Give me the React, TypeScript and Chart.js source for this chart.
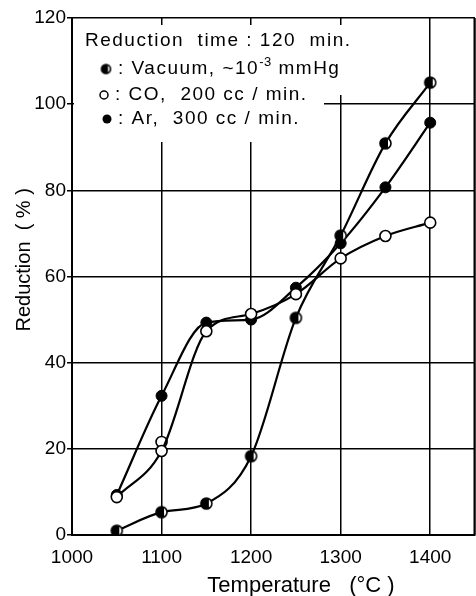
import React, { useEffect, useRef } from 'react';
import { Chart, registerables } from 'chart.js';

Chart.register(...registerables);

// ---- Data ----
const temperatures = [1050, 1100, 1150, 1200, 1250, 1300, 1350, 1400];
const vacuumValues = [1.0, 5.3, 7.3, 18.3, 50.4, 69.5, 90.9, 105.0];
const coValues = [8.8, 19.5, 47.3, 51.3, 55.9, 64.2, 69.4, 72.5];
const coRepeatTemperatures = [1100];
const coRepeatValues = [21.6];
const arValues = [9.3, 32.3, 49.3, 50.0, 57.4, 67.7, 80.7, 95.7];

const xTickValues = [1000, 1100, 1200, 1300, 1400];
const xMin = 1000;
const xMax = 1450;
const yTickValues = [0, 20, 40, 60, 80, 100, 120];
const yMin = 0;
const yMax = 120;

const legendHeader = 'Reduction  time : 120  min.';
const legendVacuum = ': Vacuum, ~10';
const legendVacuumSup = '-3';
const legendVacuumTail = ' mmHg';
const legendCO = ': CO,  200 cc / min.';
const legendAr = ': Ar,  300 cc / min.';

const FONT = '"Liberation Sans", Arial, sans-serif';

function makeHalfMarker(r: number): HTMLCanvasElement {
  const size = Math.ceil(r * 2 + 4);
  const c = document.createElement('canvas');
  c.width = size;
  c.height = size;
  const g = c.getContext('2d')!;
  const cx = size / 2;
  const cy = size / 2;
  g.beginPath();
  g.arc(cx, cy, r, 0, Math.PI * 2);
  g.fillStyle = '#fff';
  g.fill();
  g.beginPath();
  g.arc(cx, cy, r, Math.PI * 0.35, Math.PI * 1.65);
  g.closePath();
  g.fillStyle = '#000';
  g.fill();
  g.beginPath();
  g.arc(cx, cy, r, 0, Math.PI * 2);
  g.lineWidth = 1.6;
  g.strokeStyle = '#000';
  g.stroke();
  return c;
}

const pts = (xs: number[], ys: number[]) => xs.map((x, i) => ({ x, y: ys[i] }));

export default function App() {
  const ref = useRef<HTMLCanvasElement | null>(null);

  useEffect(() => {
    const canvas = ref.current;
    if (!canvas) return;
    const halfMarker = makeHalfMarker(5.5);
    const halfMarkerSmall = makeHalfMarker(4.5);

    const legendPlugin = {
      id: 'insetLegend',
      beforeDatasetsDraw(chart: any) {
        const ctx: CanvasRenderingContext2D = chart.ctx;
        const a = chart.chartArea;
        ctx.save();
        // frame on the right side of the plot
        ctx.strokeStyle = '#000';
        ctx.lineWidth = 2;
        ctx.beginPath();
        ctx.moveTo(a.right - 0.5, a.top);
        ctx.lineTo(a.right - 0.5, a.bottom);
        ctx.stroke();

        // white panel behind the legend text (covers grid lines)
        ctx.fillStyle = '#fff';
        ctx.fillRect(a.left + 2, a.top + 7, 250, 117);
        ctx.fillRect(a.left + 2, a.top + 7, 273, 70);

        ctx.fillStyle = '#000';
        ctx.textBaseline = 'middle';
        ctx.textAlign = 'left';
        (ctx as any).letterSpacing = '1.5px';
        ctx.font = `19px ${FONT}`;
        ctx.fillText(legendHeader, 85, 41);

        // vacuum row
        ctx.drawImage(halfMarkerSmall, 106 - halfMarkerSmall.width / 2, 69 - halfMarkerSmall.height / 2);
        ctx.font = `19px ${FONT}`;
        ctx.fillText(legendVacuum, 118, 69);
        let x = 118 + ctx.measureText(legendVacuum).width;
        ctx.font = `13px ${FONT}`;
        (ctx as any).letterSpacing = '0.5px';
        ctx.fillText(legendVacuumSup, x, 62);
        x += ctx.measureText(legendVacuumSup).width;
        (ctx as any).letterSpacing = '1.5px';
        ctx.font = `19px ${FONT}`;
        ctx.fillText(legendVacuumTail, x, 69);

        // CO row
        ctx.beginPath();
        ctx.arc(104, 95, 4, 0, Math.PI * 2);
        ctx.fillStyle = '#fff';
        ctx.fill();
        ctx.lineWidth = 1.5;
        ctx.strokeStyle = '#000';
        ctx.stroke();
        ctx.fillStyle = '#000';
        ctx.fillText(legendCO, 115, 95);

        // Ar row
        ctx.beginPath();
        ctx.arc(107, 119, 4.5, 0, Math.PI * 2);
        ctx.fill();
        ctx.fillText(legendAr, 118, 119);
        ctx.restore();
      },
    };

    const chart = new Chart(canvas, {
      type: 'line',
      data: {
        datasets: [
          {
            label: 'Vacuum',
            data: pts(temperatures, vacuumValues),
            borderColor: '#000',
            borderWidth: 2.2,
            pointStyle: halfMarker as any,
            pointRadius: 5.5,
            cubicInterpolationMode: 'monotone',
            fill: false,
          },
          {
            label: 'CO',
            data: pts(temperatures, coValues),
            borderColor: '#000',
            borderWidth: 2.2,
            pointStyle: 'circle',
            pointRadius: 5.5,
            pointBackgroundColor: '#fff',
            pointBorderColor: '#000',
            pointBorderWidth: 1.6,
            cubicInterpolationMode: 'monotone',
            fill: false,
          },
          {
            label: 'CO (repeat)',
            data: pts(coRepeatTemperatures, coRepeatValues),
            showLine: false,
            borderColor: '#000',
            pointStyle: 'circle',
            pointRadius: 5.5,
            pointBackgroundColor: '#fff',
            pointBorderColor: '#000',
            pointBorderWidth: 1.6,
          },
          {
            label: 'Ar',
            data: pts(temperatures, arValues),
            borderColor: '#000',
            borderWidth: 2.2,
            pointStyle: 'circle',
            pointRadius: 5.5,
            pointBackgroundColor: '#000',
            pointBorderColor: '#000',
            pointBorderWidth: 1,
            cubicInterpolationMode: 'monotone',
            fill: false,
          },
        ],
      },
      options: {
        animation: false,
        responsive: false,
        devicePixelRatio: 1,
        layout: { autoPadding: false, padding: { top: 18, right: 1, left: 0, bottom: 0 } },
        plugins: {
          legend: { display: false },
          tooltip: { enabled: false },
        },
        scales: {
          x: {
            type: 'linear',
            min: xMin,
            max: xMax,
            afterBuildTicks: (s: any) => {
              s.ticks = [...xTickValues, xMax].map((value) => ({ value }));
            },
            afterFit: (s: any) => {
              s.height = 61;
            },
            ticks: {
              color: '#000',
              font: { family: FONT, size: 19 },
              padding: 0,
              maxRotation: 0,
              autoSkip: false,
              callback: (v: any) => (xTickValues.includes(Number(v)) ? String(v) : ''),
            },
            grid: {
              color: '#000',
              lineWidth: 1.5,
              drawTicks: true,
              tickLength: 11,
              tickColor: 'rgba(0,0,0,0)',
            },
            border: { color: '#000', width: 2 },
            title: {
              display: true,
              text: '         Temperature   (°C )',
              color: '#000',
              font: { family: FONT, size: 22 },
              padding: { top: 0, bottom: -3 },
            },
          },
          y: {
            type: 'linear',
            min: yMin,
            max: yMax,
            afterBuildTicks: (s: any) => {
              s.ticks = yTickValues.map((value) => ({ value }));
            },
            afterFit: (s: any) => {
              s.width = 72;
            },
            ticks: {
              color: '#000',
              font: { family: FONT, size: 19 },
              padding: 1,
              callback: (v: any) => String(v),
            },
            grid: { color: '#000', lineWidth: 1.5, tickLength: 5, drawTicks: true },
            border: { color: '#000', width: 2 },
            title: {
              display: true,
              text: '      Reduction  ( % )',
              color: '#000',
              font: { family: FONT, size: 20 },
              padding: { top: 12, bottom: 0 },
            },
          },
        },
      },
      plugins: [legendPlugin],
    } as any);

    return () => chart.destroy();
  }, []);

  return (
    <div style={{ position: 'absolute', left: 0, top: 0, width: 476, height: 596, background: '#fff', overflow: 'hidden' }}>
      <canvas ref={ref} width={476} height={596} style={{ width: 476, height: 596 }} />
    </div>
  );
}
